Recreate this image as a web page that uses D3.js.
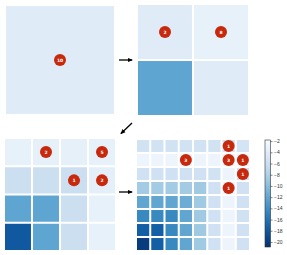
<!DOCTYPE html>
<html>
<head>
<meta charset="utf-8" />
<script src="https://cdnjs.cloudflare.com/ajax/libs/d3/7.8.5/d3.min.js"></script>
<style>
  body { margin: 0; background: #fff; }
  svg { font-family: "DejaVu Sans", sans-serif; }
  .cbar text { font-size: 5px; fill: #333; }
  .cbar line, .cbar path { stroke: #333; stroke-width: 0.6; }
  .badge text { fill: #fff; font-size: 4.5px; font-weight: bold; }
</style>
</head>
<body>
<svg width="287" height="255"></svg>
<script>
// values of each grid, row by row (top to bottom)
var grid1 = [[-4.1]];
var grid2 = [
  [-4.1, -3.3],
  [-12.1, -4.1]
];
var grid3 = [
  [-3.3, -3.5, -3.5, -3.3],
  [-6.0, -6.0, -6.0, -3.6],
  [-12.1, -12.1, -6.0, -3.3],
  [-17.9, -12.1, -6.0, -3.3]
];
var grid4 = [
  [-5.4, -5.4, -5.4, -5.4, -5.4, -5.4, -5.4, -5.2],
  [-2.8, -2.8, -2.8, -2.8, -2.8, -2.8, -2.8, -2.8],
  [-5.6, -5.6, -5.6, -5.6, -5.6, -5.4, -2.8, -5.4],
  [-8.6, -8.6, -8.6, -8.6, -8.8, -5.6, -2.8, -5.6],
  [-12.0, -12.0, -12.0, -11.4, -8.8, -5.6, -2.8, -5.6],
  [-14.4, -14.4, -14.4, -12.0, -8.8, -5.6, -2.8, -5.6],
  [-17.5, -17.5, -14.4, -12.0, -8.8, -5.6, -2.8, -5.6],
  [-20.0, -17.5, -14.4, -12.0, -8.8, -5.6, -2.8, -5.6]
];
// badges: [row, col, label]
var badges1 = [[0, 0, "10"]];
var badges2 = [[0, 0, "2"], [0, 1, "8"]];
var badges3 = [[0, 1, "2"], [0, 3, "5"], [1, 2, "1"], [1, 3, "2"]];
var badges4 = [[0, 6, "1"], [1, 3, "3"], [1, 6, "3"], [1, 7, "1"], [2, 7, "1"], [3, 6, "1"]];
var cbarTicks = [-2, -4, -6, -8, -10, -12, -14, -16, -18, -20];
var cbarDomain = [-1.8, -20.9];

var svg = d3.select('svg');
var color = d3.scaleSequential(d3.interpolateBlues).domain(cbarDomain);

function drawGrid(values, badges, x0, y0, x1, y1, gap) {
  var n = values.length;
  var xs = d3.scaleBand().domain(d3.range(n)).range([x0, x1 + gap])
    .paddingInner(gap / ((x1 - x0 + gap) / n)).paddingOuter(0);
  var ys = d3.scaleBand().domain(d3.range(n)).range([y0, y1 + gap])
    .paddingInner(gap / ((y1 - y0 + gap) / n)).paddingOuter(0);
  var g = svg.append('g');
  var cells = [];
  values.forEach(function (row, r) {
    row.forEach(function (v, c) { cells.push({ r: r, c: c, v: v }); });
  });
  g.selectAll('rect').data(cells).enter().append('rect')
    .attr('x', function (d) { return xs(d.c); })
    .attr('y', function (d) { return ys(d.r); })
    .attr('width', xs.bandwidth())
    .attr('height', ys.bandwidth())
    .attr('fill', function (d) { return color(d.v); });

  var b = g.selectAll('.badge').data(badges).enter().append('g')
    .attr('class', 'badge')
    .attr('transform', function (d) {
      return 'translate(' + (xs(d[1]) + xs.bandwidth() / 2) + ',' + (ys(d[0]) + ys.bandwidth() / 2) + ')';
    });
  b.append('circle').attr('r', 6).attr('fill', '#c8280c');
  b.append('text')
    .attr('text-anchor', 'middle')
    .attr('dy', '0.35em')
    .text(function (d) { return d[2]; });
}

drawGrid(grid1, badges1, 5, 5, 113, 113, 2);
drawGrid(grid2, badges2, 138, 5, 246, 113, 2);
drawGrid(grid3, badges3, 5, 139, 113, 248, 2);
drawGrid(grid4, badges4, 137, 140, 247, 248, 2);

// arrows
var defs = svg.append('defs');
defs.append('marker')
  .attr('id', 'head')
  .attr('viewBox', '0 0 10 10')
  .attr('refX', 8).attr('refY', 5)
  .attr('markerWidth', 4).attr('markerHeight', 4)
  .attr('orient', 'auto')
  .append('path').attr('d', 'M0,1 L10,5 L0,9 z').attr('fill', '#000');

var arrows = [
  [119, 60, 132, 60],
  [132, 123, 121, 133.5],
  [119, 192, 132, 192]
];
svg.selectAll('.arrow').data(arrows).enter().append('line')
  .attr('class', 'arrow')
  .attr('x1', function (d) { return d[0]; })
  .attr('y1', function (d) { return d[1]; })
  .attr('x2', function (d) { return d[2]; })
  .attr('y2', function (d) { return d[3]; })
  .attr('stroke', '#000')
  .attr('stroke-width', 1.3)
  .attr('marker-end', 'url(#head)');

// colorbar
var cbX = 265, cbW = 5.5, cbY0 = 140, cbY1 = 247;
var cy = d3.scaleLinear().domain(cbarDomain).range([cbY0, cbY1]);
var grad = defs.append('linearGradient').attr('id', 'cbgrad')
  .attr('x1', 0).attr('y1', 0).attr('x2', 0).attr('y2', 1);
d3.range(0, 1.0001, 0.05).forEach(function (t) {
  grad.append('stop').attr('offset', t)
    .attr('stop-color', color(cbarDomain[0] + t * (cbarDomain[1] - cbarDomain[0])));
});
svg.append('rect')
  .attr('x', cbX).attr('y', cbY0)
  .attr('width', cbW).attr('height', cbY1 - cbY0)
  .attr('fill', 'url(#cbgrad)')
  .attr('stroke', '#333').attr('stroke-width', 0.6);

svg.append('g')
  .attr('class', 'cbar')
  .attr('transform', 'translate(' + (cbX + cbW) + ',0)')
  .call(d3.axisRight(cy).tickValues(cbarTicks).tickSize(2).tickPadding(1.5))
  .call(function (g) { g.select('.domain').remove(); });
</script>
</body>
</html>
